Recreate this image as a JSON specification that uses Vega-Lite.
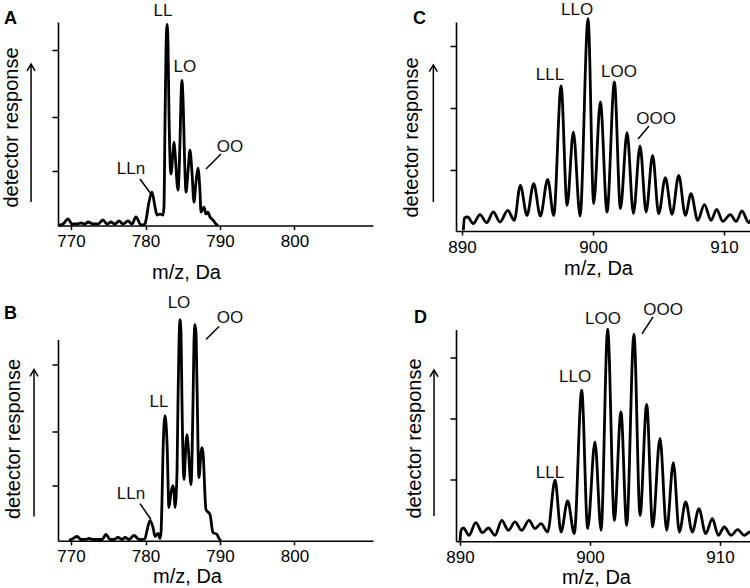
{
  "$schema": "https://vega.github.io/schema/vega-lite/v6.json",
  "padding": {"left": 0, "top": 0, "right": 0, "bottom": 0},
  "spacing": 27,
  "config": {
    "font": "Liberation Sans",
    "view": {"stroke": null},
    "axis": {
      "grid": false,
      "domainColor": "#000",
      "domainWidth": 1.6,
      "tickColor": "#000",
      "tickWidth": 1.5,
      "labelColor": "#000",
      "titleColor": "#000",
      "labelFont": "Liberation Sans",
      "titleFont": "Liberation Sans",
      "titleFontWeight": "normal",
      "titleFontSize": 20,
      "labelFontSize": 17,
      "labelFlush": false,
      "labelOverlap": false
    }
  },
  "datasets": {
    "specA": [
      {"mz": 768.26, "v": 0}, {"mz": 768.93, "v": 0.75}, {"mz": 769.6, "v": 3.23}, {"mz": 770.13, "v": 0.75},
      {"mz": 770.81, "v": 0.75}, {"mz": 771.34, "v": 1.24}, {"mz": 771.88, "v": 0.75}, {"mz": 772.28, "v": 1.74},
      {"mz": 772.95, "v": 0.75}, {"mz": 773.62, "v": 0.75}, {"mz": 774.3, "v": 2.74}, {"mz": 774.83, "v": 0.75},
      {"mz": 775.37, "v": 1.74}, {"mz": 775.91, "v": 0.75}, {"mz": 776.44, "v": 2.24}, {"mz": 776.98, "v": 0.75},
      {"mz": 777.65, "v": 2.24}, {"mz": 778.19, "v": 0.75}, {"mz": 778.72, "v": 4.23}, {"mz": 779.4, "v": 0.25},
      {"mz": 779.93, "v": 0.75}, {"mz": 780.07, "v": 2.74}, {"mz": 780.47, "v": 11.69}, {"mz": 780.87, "v": 16.67},
      {"mz": 781.28, "v": 9.2}, {"mz": 781.54, "v": 5.22}, {"mz": 781.95, "v": 5.72}, {"mz": 782.35, "v": 5.22},
      {"mz": 782.48, "v": 9.2}, {"mz": 782.62, "v": 51.49}, {"mz": 782.75, "v": 86.32}, {"mz": 782.89, "v": 100.25},
      {"mz": 783.02, "v": 91.29}, {"mz": 783.15, "v": 56.47}, {"mz": 783.42, "v": 25.62}, {"mz": 783.69, "v": 36.57},
      {"mz": 783.83, "v": 41.54}, {"mz": 783.96, "v": 36.57}, {"mz": 784.36, "v": 17.66}, {"mz": 784.63, "v": 41.54},
      {"mz": 784.77, "v": 63.93}, {"mz": 784.9, "v": 72.39}, {"mz": 785.03, "v": 63.93}, {"mz": 785.3, "v": 26.62},
      {"mz": 785.44, "v": 16.67}, {"mz": 785.7, "v": 26.62}, {"mz": 785.97, "v": 37.56}, {"mz": 786.24, "v": 26.62},
      {"mz": 786.51, "v": 11.69}, {"mz": 786.78, "v": 21.64}, {"mz": 787.05, "v": 28.61}, {"mz": 787.32, "v": 16.67},
      {"mz": 787.45, "v": 6.72}, {"mz": 787.85, "v": 9.2}, {"mz": 788.12, "v": 5.72}, {"mz": 788.39, "v": 6.72},
      {"mz": 788.66, "v": 4.23}, {"mz": 789.06, "v": 2.74}, {"mz": 789.46, "v": 0.75}, {"mz": 789.73, "v": 0}
    ],
    "specB": [
      {"mz": 769.73, "v": 0.15}, {"mz": 770.27, "v": 1.14}, {"mz": 770.81, "v": 2.13}, {"mz": 771.34, "v": 0.65},
      {"mz": 771.88, "v": 0.65}, {"mz": 772.42, "v": 1.14}, {"mz": 772.95, "v": 0.65}, {"mz": 773.62, "v": 0.65},
      {"mz": 774.16, "v": 0.65}, {"mz": 774.7, "v": 3.13}, {"mz": 775.23, "v": 0.65}, {"mz": 775.77, "v": 0.65},
      {"mz": 776.31, "v": 1.64}, {"mz": 776.85, "v": 0.65}, {"mz": 777.25, "v": 1.64}, {"mz": 777.79, "v": 0.65},
      {"mz": 778.46, "v": 2.63}, {"mz": 779.13, "v": 0.65}, {"mz": 779.66, "v": 0.65}, {"mz": 779.93, "v": 1.14},
      {"mz": 780.2, "v": 5.11}, {"mz": 780.6, "v": 10.07}, {"mz": 781.01, "v": 6.6}, {"mz": 781.28, "v": 2.13},
      {"mz": 781.68, "v": 3.62}, {"mz": 781.95, "v": 1.14}, {"mz": 782.08, "v": 4.12}, {"mz": 782.21, "v": 19.01},
      {"mz": 782.35, "v": 43.82}, {"mz": 782.62, "v": 62.18}, {"mz": 782.89, "v": 48.78}, {"mz": 783.15, "v": 16.53},
      {"mz": 783.42, "v": 23.97}, {"mz": 783.69, "v": 27.44}, {"mz": 783.83, "v": 23.97}, {"mz": 783.96, "v": 16.53},
      {"mz": 784.23, "v": 33.9}, {"mz": 784.36, "v": 68.64}, {"mz": 784.5, "v": 98.41}, {"mz": 784.63, "v": 109.8},
      {"mz": 784.77, "v": 103.4}, {"mz": 784.9, "v": 68.64}, {"mz": 785.17, "v": 30.42}, {"mz": 785.44, "v": 48.78},
      {"mz": 785.57, "v": 52.75}, {"mz": 785.7, "v": 48.78}, {"mz": 786.11, "v": 27.94}, {"mz": 786.38, "v": 68.64},
      {"mz": 786.51, "v": 98.41}, {"mz": 786.64, "v": 107.35}, {"mz": 786.78, "v": 103.4}, {"mz": 786.91, "v": 78.56},
      {"mz": 787.18, "v": 31.41}, {"mz": 787.45, "v": 43.82}, {"mz": 787.58, "v": 46.3}, {"mz": 787.72, "v": 43.82},
      {"mz": 788.12, "v": 15.53}, {"mz": 788.66, "v": 13.05}, {"mz": 789.06, "v": 4.12}, {"mz": 789.6, "v": 3.13},
      {"mz": 789.87, "v": 1.14}, {"mz": 790.13, "v": 0.15}
    ],
    "specC": [
      {"mz": 890.1, "v": 0.32}, {"mz": 890.18, "v": 6.16}, {"mz": 890.43, "v": 6.64}, {"mz": 890.86, "v": 3.47},
      {"mz": 891.37, "v": 7.74}, {"mz": 891.88, "v": 3.95}, {"mz": 892.39, "v": 9.0}, {"mz": 892.9, "v": 4.27},
      {"mz": 893.49, "v": 9.79}, {"mz": 893.99, "v": 5.06}, {"mz": 894.45, "v": 21.64}, {"mz": 894.96, "v": 7.42},
      {"mz": 895.47, "v": 22.43}, {"mz": 895.98, "v": 7.11}, {"mz": 896.54, "v": 24.49}, {"mz": 897.0, "v": 7.42},
      {"mz": 897.56, "v": 68.72}, {"mz": 898.02, "v": 12.16}, {"mz": 898.5, "v": 46.92}, {"mz": 899.01, "v": 7.11},
      {"mz": 899.62, "v": 100.63}, {"mz": 900.05, "v": 12.95}, {"mz": 900.56, "v": 61.14}, {"mz": 901.07, "v": 9.0},
      {"mz": 901.63, "v": 70.62}, {"mz": 902.09, "v": 10.58}, {"mz": 902.6, "v": 46.6}, {"mz": 903.08, "v": 8.21},
      {"mz": 903.59, "v": 40.28}, {"mz": 904.05, "v": 9.0}, {"mz": 904.55, "v": 35.86}, {"mz": 905.01, "v": 8.21},
      {"mz": 905.52, "v": 25.28}, {"mz": 906.03, "v": 7.9}, {"mz": 906.54, "v": 26.38}, {"mz": 907.05, "v": 7.42},
      {"mz": 907.48, "v": 17.69}, {"mz": 907.99, "v": 5.06}, {"mz": 908.5, "v": 12.48}, {"mz": 909.01, "v": 5.06},
      {"mz": 909.44, "v": 10.27}, {"mz": 909.9, "v": 4.58}, {"mz": 910.48, "v": 7.74}, {"mz": 910.92, "v": 4.58},
      {"mz": 911.37, "v": 9.48}, {"mz": 911.88, "v": 3.95}, {"mz": 912.26, "v": 7.11}, {"mz": 912.44, "v": 5.5}
    ],
    "specD": [
      {"mz": 890.0, "v": 0}, {"mz": 890.08, "v": 5.19}, {"mz": 890.26, "v": 6.29}, {"mz": 890.69, "v": 2.82},
      {"mz": 891.21, "v": 8.81}, {"mz": 891.72, "v": 4.08}, {"mz": 892.18, "v": 6.29}, {"mz": 892.69, "v": 2.82},
      {"mz": 893.21, "v": 9.91}, {"mz": 893.72, "v": 5.19}, {"mz": 894.23, "v": 9.13}, {"mz": 894.74, "v": 5.19},
      {"mz": 895.31, "v": 9.91}, {"mz": 895.77, "v": 5.97}, {"mz": 896.23, "v": 8.34}, {"mz": 896.74, "v": 4.4},
      {"mz": 897.31, "v": 28.83}, {"mz": 897.77, "v": 4.4}, {"mz": 898.28, "v": 19.05}, {"mz": 898.79, "v": 3.61},
      {"mz": 899.36, "v": 71.38}, {"mz": 899.82, "v": 5.97}, {"mz": 900.38, "v": 46.95}, {"mz": 900.85, "v": 5.19},
      {"mz": 901.36, "v": 100.22}, {"mz": 901.87, "v": 9.91}, {"mz": 902.38, "v": 61.13}, {"mz": 902.82, "v": 7.55},
      {"mz": 903.38, "v": 97.86}, {"mz": 903.85, "v": 12.28}, {"mz": 904.36, "v": 64.6}, {"mz": 904.82, "v": 6.76},
      {"mz": 905.38, "v": 48.53}, {"mz": 905.9, "v": 5.19}, {"mz": 906.41, "v": 37.18}, {"mz": 906.87, "v": 4.4},
      {"mz": 907.36, "v": 18.58}, {"mz": 907.87, "v": 4.4}, {"mz": 908.38, "v": 15.43}, {"mz": 908.9, "v": 3.61},
      {"mz": 909.41, "v": 10.7}, {"mz": 909.87, "v": 2.82}, {"mz": 910.33, "v": 6.76}, {"mz": 910.85, "v": 2.82},
      {"mz": 911.36, "v": 5.5}, {"mz": 911.87, "v": 2.82}, {"mz": 912.31, "v": 4.4}, {"mz": 912.69, "v": 2.82}
    ],
    "labA": [
      {"label": "LL", "mz": 782.35, "v": 104.5}, {"label": "LO", "mz": 785.3, "v": 76.6},
      {"label": "OO", "mz": 791.34, "v": 36.7}, {"label": "LLn", "mz": 778.05, "v": 25.7}
    ],
    "labB": [
      {"label": "LO", "mz": 784.5, "v": 115.4}, {"label": "OO", "mz": 791.34, "v": 108.0},
      {"label": "LL", "mz": 781.81, "v": 66.7}, {"label": "LLn", "mz": 778.05, "v": 21.0}
    ],
    "labC": [
      {"label": "LLO", "mz": 898.78, "v": 102.4}, {"label": "LLL", "mz": 896.72, "v": 71.6},
      {"label": "LOO", "mz": 901.98, "v": 73.0}, {"label": "OOO", "mz": 904.81, "v": 50.7}
    ],
    "labD": [
      {"label": "LOO", "mz": 901.0, "v": 102.6}, {"label": "OOO", "mz": 905.62, "v": 106.9},
      {"label": "LLO", "mz": 898.85, "v": 75.2}, {"label": "LLL", "mz": 896.92, "v": 29.9}
    ],
    "leadA": [
      {"mz": 779.26, "v": 23.2, "mz2": 780.74, "v2": 15.7},
      {"mz": 790.13, "v": 35.7, "mz2": 788.12, "v2": 28.2}
    ],
    "leadB": [
      {"mz": 789.87, "v": 106.5, "mz2": 788.12, "v2": 100.0},
      {"mz": 779.26, "v": 18.5, "mz2": 780.74, "v2": 10.6}
    ],
    "leadC": [
      {"mz": 904.27, "v": 49.8, "mz2": 903.44, "v2": 43.6}
    ],
    "leadD": [
      {"mz": 904.85, "v": 106.0, "mz2": 904.0, "v2": 98.0}
    ],
    "panelA": [{"panel": "A", "mz": 761.0, "v": 100.5}],
    "panelB": [{"panel": "B", "mz": 761.0, "v": 110.4}],
    "panelC": [{"panel": "C", "mz": 886.26, "v": 98.1}],
    "panelD": [{"panel": "D", "mz": 886.46, "v": 103.1}]
  },
  "hconcat": [
    {
      "bounds": "flush",
      "spacing": 113.5,
      "vconcat": [
        {
          "width": 315, "height": 203.5,
          "layer": [
            {
              "data": {"name": "specA"},
              "mark": {"type": "line", "interpolate": "monotone", "strokeWidth": 2.8, "color": "#000", "strokeJoin": "round"},
              "encoding": {
                "x": {"field": "mz", "type": "quantitative", "scale": {"domain": [768.25, 810.55], "nice": false, "zero": false},
                  "axis": {"title": "m/z, Da", "values": [770, 780, 790, 800], "format": "d", "tickSize": 4, "labelPadding": 4, "labelDx": 2, "titleX": 128, "titleY": 53, "titleBaseline": "alphabetic"}},
                "y": {"field": "v", "type": "quantitative", "scale": {"domain": [0, 101.5], "nice": false, "zero": false},
                  "axis": {"title": "detector response", "values": [27.2, 54.1, 87.5], "labels": false, "tickSize": 6, "titleX": -41, "titleY": 105, "titleBaseline": "alphabetic", "titleAngle": -90}}
              }
            },
            {
              "data": {"name": "panelA"},
              "mark": {"type": "text", "fontSize": 18, "fontWeight": "bold", "align": "left", "baseline": "alphabetic", "color": "#000"},
              "encoding": {"x": {"field": "mz", "type": "quantitative"}, "y": {"field": "v", "type": "quantitative"}, "text": {"field": "panel"}}
            },
            {
              "data": {"name": "labA"},
              "mark": {"type": "text", "fontSize": 17, "align": "center", "baseline": "alphabetic", "color": "#111"},
              "encoding": {"x": {"field": "mz", "type": "quantitative"}, "y": {"field": "v", "type": "quantitative"}, "text": {"field": "label"}}
            },
            {
              "data": {"name": "leadA"},
              "mark": {"type": "rule", "strokeWidth": 1.5, "color": "#000"},
              "encoding": {"x": {"field": "mz", "type": "quantitative"}, "y": {"field": "v", "type": "quantitative"}, "x2": {"field": "mz2"}, "y2": {"field": "v2"}}
            },
            {
              "data": {"values": [{}]},
              "mark": {"type": "rule", "strokeWidth": 1.5, "color": "#000"},
              "encoding": {"x": {"datum": 764.63, "type": "quantitative"}, "y": {"datum": 11.7, "type": "quantitative"}, "y2": {"datum": 80.5}}
            },
            {
              "data": {"values": [{}]},
              "mark": {"type": "point", "shape": "M-1,1.7L0,0L1,1.7", "size": 64, "filled": false, "stroke": "#000", "strokeWidth": 1.5, "opacity": 1},
              "encoding": {"x": {"datum": 764.63, "type": "quantitative"}, "y": {"datum": 80.5, "type": "quantitative"}}
            }
          ]
        },
        {
          "width": 315, "height": 201.3,
          "layer": [
            {
              "data": {"name": "specB"},
              "mark": {"type": "line", "interpolate": "monotone", "strokeWidth": 2.8, "color": "#000", "strokeJoin": "round"},
              "encoding": {
                "x": {"field": "mz", "type": "quantitative", "scale": {"domain": [768.25, 810.55], "nice": false, "zero": false},
                  "axis": {"title": "m/z, Da", "values": [770, 780, 790, 800], "format": "d", "tickSize": 4, "labelPadding": 4, "labelDx": 2, "titleX": 129, "titleY": 41.7, "titleBaseline": "alphabetic"}},
                "y": {"field": "v", "type": "quantitative", "scale": {"domain": [0, 100], "nice": false, "zero": false},
                  "axis": {"title": "detector response", "values": [27.5, 54.3, 87.6], "labels": false, "tickSize": 6, "titleX": -39, "titleY": 99, "titleBaseline": "alphabetic", "titleAngle": -90}}
              }
            },
            {
              "data": {"name": "panelB"},
              "mark": {"type": "text", "fontSize": 18, "fontWeight": "bold", "align": "left", "baseline": "alphabetic", "color": "#000"},
              "encoding": {"x": {"field": "mz", "type": "quantitative"}, "y": {"field": "v", "type": "quantitative"}, "text": {"field": "panel"}}
            },
            {
              "data": {"name": "labB"},
              "mark": {"type": "text", "fontSize": 17, "align": "center", "baseline": "alphabetic", "color": "#111"},
              "encoding": {"x": {"field": "mz", "type": "quantitative"}, "y": {"field": "v", "type": "quantitative"}, "text": {"field": "label"}}
            },
            {
              "data": {"name": "leadB"},
              "mark": {"type": "rule", "strokeWidth": 1.5, "color": "#000"},
              "encoding": {"x": {"field": "mz", "type": "quantitative"}, "y": {"field": "v", "type": "quantitative"}, "x2": {"field": "mz2"}, "y2": {"field": "v2"}}
            },
            {
              "data": {"values": [{}]},
              "mark": {"type": "rule", "strokeWidth": 1.5, "color": "#000"},
              "encoding": {"x": {"datum": 765.03, "type": "quantitative"}, "y": {"datum": 12.1, "type": "quantitative"}, "y2": {"datum": 85.1}}
            },
            {
              "data": {"values": [{}]},
              "mark": {"type": "point", "shape": "M-1,1.7L0,0L1,1.7", "size": 64, "filled": false, "stroke": "#000", "strokeWidth": 1.5, "opacity": 1},
              "encoding": {"x": {"datum": 765.03, "type": "quantitative"}, "y": {"datum": 85.1, "type": "quantitative"}}
            }
          ]
        }
      ]
    },
    {
      "bounds": "flush",
      "spacing": 98.5,
      "vconcat": [
        {
          "width": 300, "height": 209,
          "layer": [
            {
              "data": {"name": "specC"},
              "mark": {"type": "line", "interpolate": "monotone", "strokeWidth": 2.8, "color": "#000", "strokeJoin": "round"},
              "encoding": {
                "x": {"field": "mz", "type": "quantitative", "scale": {"domain": [889.54, 912.44], "nice": false, "zero": false},
                  "axis": {"title": "m/z, Da", "values": [890, 900, 910], "format": "d", "tickSize": 4, "labelPadding": 4, "labelDx": 7, "titleX": 142, "titleY": 43.7, "titleBaseline": "alphabetic"}},
                "y": {"field": "v", "type": "quantitative", "scale": {"domain": [0, 99.05], "nice": false, "zero": false},
                  "axis": {"title": "detector response", "values": [28.9, 58.3, 87.7], "labels": false, "tickSize": 6, "titleX": -39, "titleY": 115, "titleBaseline": "alphabetic", "titleAngle": -90}}
              }
            },
            {
              "data": {"name": "panelC"},
              "mark": {"type": "text", "fontSize": 18, "fontWeight": "bold", "align": "left", "baseline": "alphabetic", "color": "#000"},
              "encoding": {"x": {"field": "mz", "type": "quantitative"}, "y": {"field": "v", "type": "quantitative"}, "text": {"field": "panel"}}
            },
            {
              "data": {"name": "labC"},
              "mark": {"type": "text", "fontSize": 17, "align": "center", "baseline": "alphabetic", "color": "#111"},
              "encoding": {"x": {"field": "mz", "type": "quantitative"}, "y": {"field": "v", "type": "quantitative"}, "text": {"field": "label"}}
            },
            {
              "data": {"name": "leadC"},
              "mark": {"type": "rule", "strokeWidth": 1.5, "color": "#000"},
              "encoding": {"x": {"field": "mz", "type": "quantitative"}, "y": {"field": "v", "type": "quantitative"}, "x2": {"field": "mz2"}, "y2": {"field": "v2"}}
            },
            {
              "data": {"values": [{}]},
              "mark": {"type": "rule", "strokeWidth": 1.5, "color": "#000"},
              "encoding": {"x": {"datum": 887.81, "type": "quantitative"}, "y": {"datum": 13.7, "type": "quantitative"}, "y2": {"datum": 78.7}}
            },
            {
              "data": {"values": [{}]},
              "mark": {"type": "point", "shape": "M-1,1.7L0,0L1,1.7", "size": 64, "filled": false, "stroke": "#000", "strokeWidth": 1.5, "opacity": 1},
              "encoding": {"x": {"datum": 887.81, "type": "quantitative"}, "y": {"datum": 78.7, "type": "quantitative"}}
            }
          ]
        },
        {
          "width": 300, "height": 211.8,
          "layer": [
            {
              "data": {"name": "specD"},
              "mark": {"type": "line", "interpolate": "monotone", "strokeWidth": 2.8, "color": "#000", "strokeJoin": "round"},
              "encoding": {
                "x": {"field": "mz", "type": "quantitative", "scale": {"domain": [889.69, 912.77], "nice": false, "zero": false},
                  "axis": {"title": "m/z, Da", "values": [890, 900, 910], "format": "d", "tickSize": 4, "labelPadding": 4, "labelDx": 8, "titleX": 140, "titleY": 42, "titleBaseline": "alphabetic"}},
                "y": {"field": "v", "type": "quantitative", "scale": {"domain": [0, 100], "nice": false, "zero": false},
                  "axis": {"title": "detector response", "values": [29.0, 58.2, 87.0], "labels": false, "tickSize": 6, "titleX": -36, "titleY": 108.5, "titleBaseline": "alphabetic", "titleAngle": -90}}
              }
            },
            {
              "data": {"name": "panelD"},
              "mark": {"type": "text", "fontSize": 18, "fontWeight": "bold", "align": "left", "baseline": "alphabetic", "color": "#000"},
              "encoding": {"x": {"field": "mz", "type": "quantitative"}, "y": {"field": "v", "type": "quantitative"}, "text": {"field": "panel"}}
            },
            {
              "data": {"name": "labD"},
              "mark": {"type": "text", "fontSize": 17, "align": "center", "baseline": "alphabetic", "color": "#111"},
              "encoding": {"x": {"field": "mz", "type": "quantitative"}, "y": {"field": "v", "type": "quantitative"}, "text": {"field": "label"}}
            },
            {
              "data": {"name": "leadD"},
              "mark": {"type": "rule", "strokeWidth": 1.5, "color": "#000"},
              "encoding": {"x": {"field": "mz", "type": "quantitative"}, "y": {"field": "v", "type": "quantitative"}, "x2": {"field": "mz2"}, "y2": {"field": "v2"}}
            },
            {
              "data": {"values": [{}]},
              "mark": {"type": "rule", "strokeWidth": 1.5, "color": "#000"},
              "encoding": {"x": {"datum": 888.0, "type": "quantitative"}, "y": {"datum": 11.9, "type": "quantitative"}, "y2": {"datum": 80.9}}
            },
            {
              "data": {"values": [{}]},
              "mark": {"type": "point", "shape": "M-1,1.7L0,0L1,1.7", "size": 64, "filled": false, "stroke": "#000", "strokeWidth": 1.5, "opacity": 1},
              "encoding": {"x": {"datum": 888.0, "type": "quantitative"}, "y": {"datum": 80.9, "type": "quantitative"}}
            }
          ]
        }
      ]
    }
  ]
}
